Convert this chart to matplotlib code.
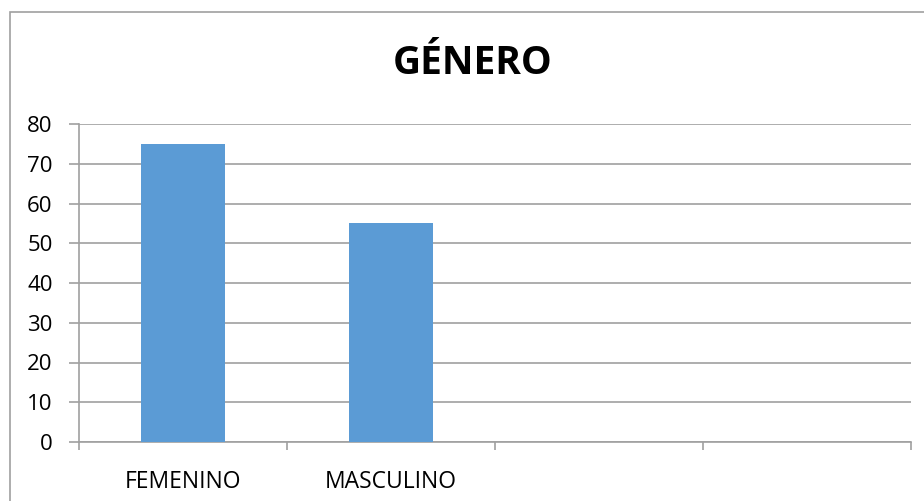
import matplotlib.pyplot as plt
import numpy as np

plt.rcParams['font.family'] = ['Open Sans', 'DejaVu Sans']

categorias = ['FEMENINO', 'MASCULINO', '', '']
valores = [75, 55, np.nan, np.nan]
yticks = [0, 10, 20, 30, 40, 50, 60, 70, 80]

fig = plt.figure(figsize=(9.24, 5.01), dpi=100)
ax = fig.add_axes([79/924, 1-442/501, (911-79)/924, (442-124)/501])

# marco del gráfico
fig.patches.append(plt.Rectangle((10/924, -0.05), 1.1, 1-12/501+0.05,
                                 transform=fig.transFigure, fill=False,
                                 edgecolor='#a0a0a0', linewidth=1.2))

x = np.arange(len(categorias))
ax.bar(x, valores, width=0.4, color='#5B9BD5', zorder=3)

ax.set_xlim(-0.5, len(categorias) - 0.5)
ax.set_ylim(0, 80)
ax.set_yticks(yticks)
ax.yaxis.grid(True, color='#a0a0a0', linewidth=1.2, zorder=0)
for s in ['top', 'right']:
    ax.spines[s].set_visible(False)
ax.spines['left'].set_color('#a0a0a0')
ax.spines['bottom'].set_color('#a0a0a0')
ax.spines['left'].set_linewidth(1.2)
ax.spines['bottom'].set_linewidth(1.2)

ax.set_xticks(x)
ax.set_xticklabels(categorias, fontsize=16.5)
ax.tick_params(axis='x', length=0, pad=20)
ax.set_xticks(np.arange(-0.5, len(categorias)), minor=True)
ax.tick_params(axis='x', which='minor', length=6, color='#a0a0a0', width=1.2)
ax.tick_params(axis='y', length=7, color='#a0a0a0', width=1.2, labelsize=16, pad=12)

fig.text(473/924, 1-64/501, 'GÉNERO', fontsize=28, fontweight='bold',
         ha='center', va='center')

fig.savefig('out.png', dpi=100)
